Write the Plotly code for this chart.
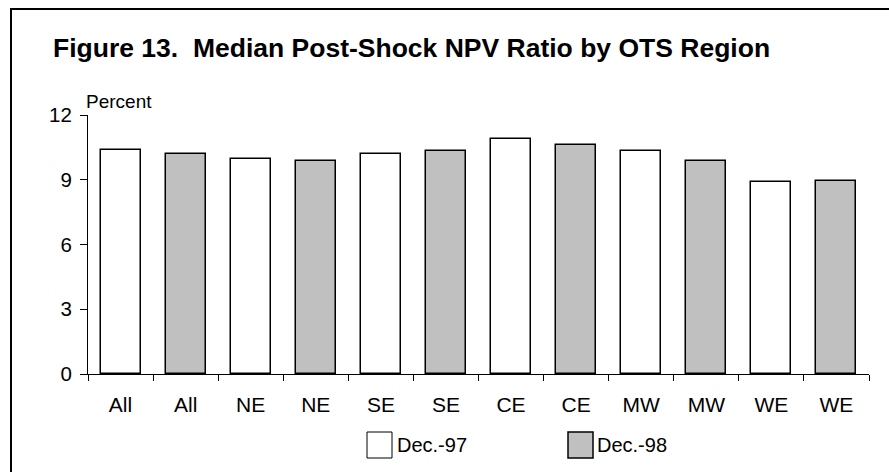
import plotly.graph_objects as go

# ---- data ----
regions = ["All", "NE", "SE", "CE", "MW", "WE"]
dec97 = [10.4, 9.95, 10.2, 10.9, 10.35, 8.9]
dec98 = [10.2, 9.85, 10.35, 10.6, 9.85, 8.95]
series_names = ["Dec.-97", "Dec.-98"]
y_ticks = [0, 3, 6, 9, 12]

# derived positions (each region shown twice: Dec.-97 then Dec.-98)
x97 = [2 * i for i in range(len(regions))]
x98 = [2 * i + 1 for i in range(len(regions))]
tick_pos = sorted(x97 + x98)
tick_text = [regions[p // 2] for p in tick_pos]
boundaries = [p - 0.5 for p in tick_pos] + [tick_pos[-1] + 0.5]

FONT = "Arial, Liberation Sans, sans-serif"
W, H = 889, 472
ML, MR, MT, MB = 88, 20, 115, 98
PW, PH = W - ML - MR, H - MT - MB

def px_x(px):
    return (px - ML) / PW

def px_y(py):
    return (H - MB - py) / PH

fig = go.Figure()
fig.add_trace(go.Bar(
    x=x97, y=dec97, name=series_names[0], width=0.615,
    marker=dict(color="#FFFFFF", line=dict(color="#000000", width=1.5)),
    showlegend=False,
))
fig.add_trace(go.Bar(
    x=x98, y=dec98, name=series_names[1], width=0.615,
    marker=dict(color="#C0C0C0", line=dict(color="#000000", width=1.5)),
    showlegend=False,
))

fig.update_layout(
    width=W, height=H,
    margin=dict(l=ML, r=MR, t=MT, b=MB),
    paper_bgcolor="white", plot_bgcolor="white",
    font=dict(family=FONT, size=20, color="#000000"),
    title=dict(
        text="Figure 13.\u00a0 Median Post-Shock NPV Ratio by OTS Region",
        font=dict(family=FONT, size=26.5, color="#000000", weight="bold"),
        xref="container", yref="container",
        x=53 / W, xanchor="left", y=1 - 47.5 / H, yanchor="middle",
    ),
    xaxis=dict(
        range=[-0.5, len(tick_pos) - 0.5],
        tickvals=tick_pos, ticktext=tick_text, ticks="",
        ticklabelstandoff=12,
        showline=True, linecolor="#000000", linewidth=1,
        showgrid=False, zeroline=False,
        tickfont=dict(size=21, color="#000000"),
        minor=dict(tickvals=boundaries, ticks="outside", ticklen=6,
                   tickcolor="#000000", tickwidth=1, showgrid=False),
    ),
    yaxis=dict(
        range=[0, 12], tickvals=y_ticks,
        ticks="outside", ticklen=7, tickcolor="#000000", tickwidth=1,
        ticklabelstandoff=4,
        showline=True, linecolor="#000000", linewidth=1,
        showgrid=False, zeroline=False,
        tickfont=dict(size=20.5, color="#000000"),
    ),
    bargap=0,
)

shapes = [
    # outer frame (right/bottom edges lie outside the picture)
    dict(type="rect", xref="paper", yref="paper",
         x0=px_x(11), x1=px_x(900), y0=px_y(485), y1=px_y(9),
         line=dict(color="#000000", width=2), fillcolor="rgba(0,0,0,0)", layer="above"),
    # legend swatches
    dict(type="rect", xref="paper", yref="paper",
         x0=px_x(367), x1=px_x(392), y0=px_y(458), y1=px_y(432),
         line=dict(color="#000000", width=1), fillcolor="#FFFFFF"),
    dict(type="rect", xref="paper", yref="paper",
         x0=px_x(568), x1=px_x(593), y0=px_y(458), y1=px_y(432),
         line=dict(color="#000000", width=1.5), fillcolor="#C0C0C0"),
]
annotations = [
    dict(text="Percent", xref="paper", yref="paper", x=px_x(84), y=px_y(101.5),
         xanchor="left", yanchor="middle", showarrow=False,
         font=dict(family=FONT, size=19, color="#000000")),
    dict(text=series_names[0], xref="paper", yref="paper", x=px_x(395), y=px_y(445),
         xanchor="left", yanchor="middle", showarrow=False,
         font=dict(family=FONT, size=20, color="#000000")),
    dict(text=series_names[1], xref="paper", yref="paper", x=px_x(595), y=px_y(445),
         xanchor="left", yanchor="middle", showarrow=False,
         font=dict(family=FONT, size=20, color="#000000")),
]
fig.update_layout(shapes=shapes, annotations=annotations)

fig.write_html(
    "out.html",
    config={"displayModeBar": False},
    post_script="document.body.style.margin='0';document.body.style.overflow='hidden';",
)
